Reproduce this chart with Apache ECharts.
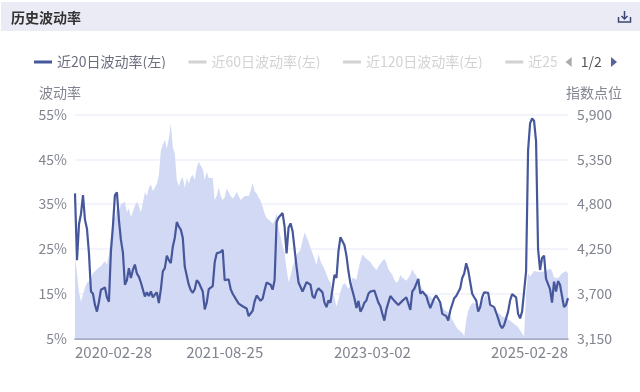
<!DOCTYPE html>
<html><head><meta charset="utf-8">
<style>html,body{margin:0;padding:0;background:#fff}#c{width:640px;height:392px}</style>
<script src="https://cdn.jsdelivr.net/npm/echarts@6/dist/echarts.min.js"></script>
</head><body><div id="c"></div>
<script>
const titleText = '历史波动率';
const tickDates = ['2020-02-28','2021-08-25','2023-03-02','2025-02-28'];
const tickIndex = [0,75,149,247];
const leftTicks = [5,15,25,35,45,55];
const rightTicks = [3150,3700,4250,4800,5350,5900];
const names = ['近20日波动率(左)','近60日波动率(左)','近120日波动率(左)','近250日波动率(左)','指数点位(右)'];
const vol20 = [37.4,22.5,30.5,32.8,37,31.5,29.5,24,15.5,15,12.5,11,13.2,15.9,15.5,16.4,14.2,13.2,24.5,30,37,37.6,31.5,27,24.2,17,18,20.7,18.5,20.3,21.5,19.5,18.8,17.5,17.3,14.4,15.3,14.5,15.5,14.2,14.8,15.3,12.9,15.9,20,20.7,23.5,22.5,21.8,25.5,27.5,31,30,29.3,27.5,21,19,17,15.8,15.2,16,18,17.5,16.5,15.5,11.5,13,16,16.3,16.7,22,24,24.2,24.3,24.8,18,17.8,18.2,16,15,14.7,13.5,12.8,13.2,12.2,11.8,11.7,10,
9.7,11.2,13.3,14.6,14.8,13.4,13.9,15.8,17.5,17.8,17,15.9,18,31,32,32,33,30,24,29.8,30.7,29,28.9,21,17.5,17.2,15.5,16.5,17.6,17.4,17,14.5,14,15.5,16.2,16.2,15.3,13,12,13.5,13,16,19.2,18.5,24.5,27.6,27.6,25.8,23.5,20,17.3,17.5,14,11.8,13.4,11,11.8,13,13.5,15,15.5,15.6,15.7,15.6,13,12.2,10.5,9,11.5,13,14.5,14.5,13.4,13.3,12.5,12.8,13.4,13.6,14.2,14,11.4,15.5,16.1,16.4,18.3,15,15.5,15,14.5,13,11.8,11.8,14,14.6,14.2,13,10.5,10.3,10,9,
11.2,11.6,14,14.5,14.3,16.2,18.5,19.5,21.8,20.2,19.8,15,14.2,13.5,11,12,14.2,15.3,15.5,15.2,12.5,12.7,12,10.8,9.5,8,7.3,8,9.5,11,13.5,14.9,14.5,14.2,10.5,9.5,11,11,20,47,53,54.1,53.6,49,25,20.3,23,23.5,18.3,18,16,13,17.7,15.5,17.8,17,14.5,12,12.5,14];
const indexPts = [4150,3950,3720,3600,3620,3780,3830,3850,3880,3950,3930,4000,3980,4040,4070,4100,4060,4180,4400,4680,4620,4760,4700,4800,4790,4830,4700,4750,4640,4660,4780,4830,4780,4700,4810,4950,4900,5000,5040,4960,5000,5050,5150,5450,5530,5590,5480,5600,5790,5500,5420,5100,5020,5100,5130,5000,5120,5050,5130,5160,5100,5250,5320,5270,5230,5100,5200,5120,5140,5120,4850,4900,5010,4900,4850,4880,4990,5000,4900,4870,4900,4950,4930,4850,4860,4900,4880,4900,
4960,5060,4960,4930,4880,4840,4770,4680,4630,4610,4590,4560,4600,4690,4500,4400,4290,4200,4000,3840,3920,4030,4100,4180,4210,4240,4350,4450,4440,4340,4260,4200,4130,4050,4190,4100,4050,4000,3940,3870,3840,3720,3650,3540,3530,3720,3800,3830,3800,3760,3800,3900,3890,3870,4000,4100,4180,4160,4130,4110,4090,4050,4030,3990,4030,4070,4100,4130,4080,4000,3980,3930,3870,3830,3860,3930,3900,3880,3860,3880,3930,4000,3950,3920,3850,3800,3760,3720,3700,3680,3660,3640,3620,3610,3590,3570,3550,3500,3490,3470,
3430,3380,3340,3290,3260,3240,3220,3180,3370,3490,3550,3590,3600,3570,3540,3560,3600,3650,3690,3620,3560,3540,3500,3470,3460,3450,3420,3410,3400,3390,3370,3350,3330,3310,3290,3250,3210,3180,3700,3950,3910,3930,3980,4000,3970,3950,3970,3990,3980,3990,4010,3980,3900,3910,3890,3900,3950,3970,3980,3950];
const categories = vol20.map((_, i) => { const k = tickIndex.indexOf(i); return k >= 0 ? tickDates[k] : String(i); });

const font = '"Noto Sans CJK SC","Noto Sans",sans-serif';
const labelColor = '#82848f';
const iconStyle = {stroke:'#3c4674',lineWidth:1.5,fill:'none'};
const chart = echarts.init(document.getElementById('c'), null, {renderer:'canvas'});
chart.setOption({
  animation:false,
  backgroundColor:'#fff',
  textStyle:{fontFamily:font},
  title:{text:titleText,left:6,top:6,textStyle:{fontSize:14,fontWeight:'bold',color:'#333',fontFamily:font}},
  graphic:[
    {type:'rect',z:-1,shape:{x:1,y:2,width:639,height:29},style:{fill:'#ebebf6'}},
    {type:'polyline',z:5,shape:{points:[[618.5,17],[618.5,22],[630.5,22],[630.5,17]]},style:iconStyle},
    {type:'line',z:5,shape:{x1:624.5,y1:11,x2:624.5,y2:19},style:iconStyle},
    {type:'polyline',z:5,shape:{points:[[621.5,16],[624.5,19],[627.5,16]]},style:iconStyle}
  ],
  legend:{
    type:'scroll',orient:'horizontal',left:29,width:583,top:50,
    data:names,
    selected:{[names[1]]:false,[names[2]]:false,[names[3]]:false},
    icon:'rect',itemWidth:18,itemHeight:3,itemGap:22.5,
    textStyle:{fontSize:14,color:'#6a6e7c',fontFamily:font},
    inactiveColor:'#d2d2d2',
    pageIconSize:[7,10],pageIconColor:'#5a6396',pageIconInactiveColor:'#aaa',
    pageTextStyle:{color:'#555',fontSize:14,fontFamily:font},pageButtonGap:9,pageButtonItemGap:3
  },
  grid:{left:75,right:72,top:114.5,bottom:53.5,containLabel:false},
  xAxis:{
    type:'category',boundaryGap:false,data:categories,
    axisLine:{show:true,lineStyle:{color:'#8f92b5',width:1.5}},
    axisTick:{show:false},
    splitLine:{show:false},
    axisLabel:{
      color:labelColor,fontSize:15,margin:6,fontFamily:font,
      interval:(i)=>tickIndex.includes(i),
      showMinLabel:true,showMaxLabel:true,alignMinLabel:'left',alignMaxLabel:'right'
    }
  },
  yAxis:[
    {type:'value',position:'left',min:5,max:55,name:'波动率',nameLocation:'end',nameGap:15,
     nameTextStyle:{color:labelColor,fontSize:14,padding:[0,30,0,0],fontFamily:font},
     axisLine:{show:false},
     axisTick:{show:false,customValues:leftTicks},
     axisLabel:{color:labelColor,fontSize:14,margin:8,formatter:'{value}%',customValues:leftTicks,fontFamily:font},
     splitLine:{show:true,lineStyle:{color:'#eff0fa',width:1.5}}},
    {type:'value',position:'right',min:3150,max:5900,name:'指数点位',nameLocation:'end',nameGap:15,
     nameTextStyle:{color:labelColor,fontSize:14,padding:[0,0,0,52],fontFamily:font},
     axisLine:{show:false},
     axisTick:{show:false,customValues:rightTicks},
     axisLabel:{color:labelColor,fontSize:14,margin:9,customValues:rightTicks,fontFamily:font,
       formatter:(v)=>v.toLocaleString('en-US')},
     splitLine:{show:false}}
  ],
  series:[
    {name:names[0],type:'line',yAxisIndex:0,data:vol20,showSymbol:false,z:3,
     itemStyle:{color:'#46579b'},lineStyle:{color:'#46579b',width:2.2}},
    {name:names[1],type:'line',yAxisIndex:0,data:[],showSymbol:false,itemStyle:{color:'#8fa0d8'}},
    {name:names[2],type:'line',yAxisIndex:0,data:[],showSymbol:false,itemStyle:{color:'#a8b4e0'}},
    {name:names[3],type:'line',yAxisIndex:0,data:[],showSymbol:false,itemStyle:{color:'#c0c8ea'}},
    {name:names[4],type:'line',yAxisIndex:1,data:indexPts,showSymbol:false,z:2,
     itemStyle:{color:'#d2d9f5'},lineStyle:{width:0},areaStyle:{color:'#d2d9f5',opacity:1}}
  ]
});
</script></body></html>
